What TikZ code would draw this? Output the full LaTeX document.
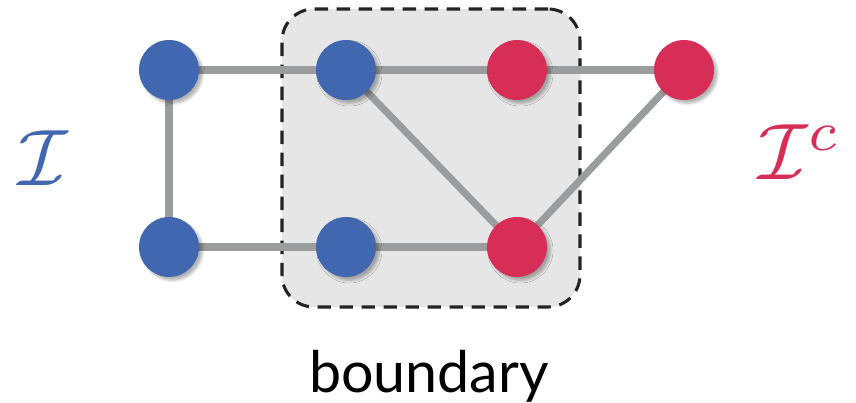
\documentclass[tikz,border=0pt]{standalone}
\usepackage[no-math]{fontspec}
\setmainfont{Lato}
\usetikzlibrary{shadows.blur}
\definecolor{nblue}{RGB}{65,103,177}
\definecolor{nred}{RGB}{214,46,87}
\definecolor{egray}{RGB}{155,156,157}
\definecolor{boxfill}{RGB}{230,230,230}
\definecolor{dashc}{RGB}{35,35,35}
\begin{document}
\begin{tikzpicture}[x=0.75pt,y=-0.75pt,
  vert/.style={circle,minimum size=45pt,inner sep=0pt,
    blur shadow={shadow xshift=2.5pt,shadow yshift=-2.5pt,shadow blur radius=2pt,shadow opacity=30}},
  bv/.style={vert,fill=nblue},
  rv/.style={vert,fill=nred},
  edge/.style={draw=egray,line width=5.3pt},
  biglabel/.style={scale=6,inner sep=0pt}]
\useasboundingbox (0,0) rectangle (856,403);
\node[draw=dashc,fill=boxfill,line width=2.3pt,dash pattern=on 10pt off 6.5pt,
  rounded corners=24pt,minimum width=298*0.75pt,minimum height=298*0.75pt,inner sep=0pt]
  (bd) at (431,158) {};
\coordinate (a) at (169,70);
\coordinate (b) at (346,70);
\coordinate (c) at (517,70);
\coordinate (d) at (684,70);
\coordinate (e) at (169,247);
\coordinate (f) at (346,247);
\coordinate (g) at (517,247);
\draw[edge] (a) -- (b) -- (c) -- (d);
\draw[edge] (a) -- (e) -- (f) -- (g);
\draw[edge] (b) -- (g) -- (d);
\node[bv] (na) at (a) {};
\node[bv] (nb) at (b) {};
\node[rv] (nc) at (c) {};
\node[rv] (nd) at (d) {};
\node[bv] (ne) at (e) {};
\node[bv] (nf) at (f) {};
\node[rv] (ng) at (g) {};
\node[text=nblue,biglabel] (li) at (43,158) {$\mathcal{I}$};
\node[text=nred,biglabel] (lic) at (800,152) {$\mathcal{I}^c$};
\node[font=\fontsize{43}{46}\selectfont,anchor=base] (lb) at (429,392) {boundary};
\end{tikzpicture}
\end{document}
